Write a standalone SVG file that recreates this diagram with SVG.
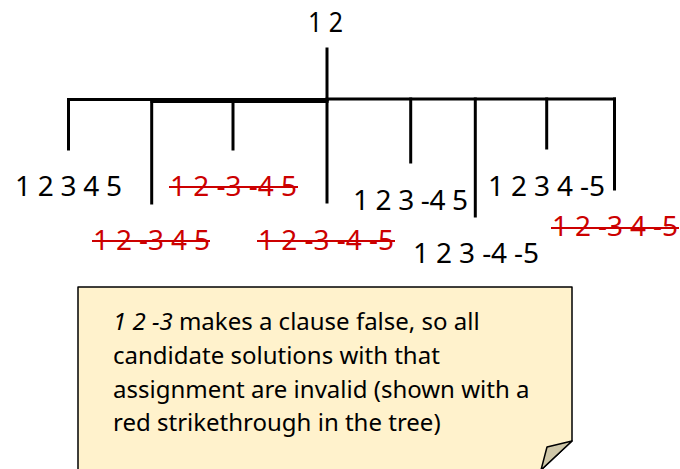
<svg xmlns="http://www.w3.org/2000/svg" width="680" height="469" viewBox="0 0 680 469">
<style>
  .t { font-family: "Noto Sans", "Liberation Sans", sans-serif; font-size: 28px; fill: #000; }
  .r { fill: #cc0000; }
  .strike { stroke: #cc0000; stroke-width: 2; }
  .edge { stroke: #000; stroke-width: 3; fill: none; stroke-linecap: square; }
  .note { fill: #fff2cc; stroke: #000; stroke-width: 1.5; stroke-linejoin: round; }
  .fold { fill: #cfc7a8; stroke: #000; stroke-width: 1.5; stroke-linejoin: round; }
  .nt { font-family: "Noto Sans", "Liberation Sans", sans-serif; font-size: 24px; fill: #000; }
</style>
<rect width="680" height="469" fill="#fff"/>
<g id="connectors">
  <line class="edge" x1="327" y1="49" x2="327" y2="202"/>
  <line class="edge" x1="69" y1="99.5" x2="327" y2="99.5"/>
  <line class="edge" x1="152" y1="101.5" x2="327" y2="101.5"/>
  <line class="edge" x1="233" y1="100" x2="327" y2="100"/>
  <line class="edge" x1="327" y1="99" x2="614.5" y2="99"/>
  <line class="edge" x1="68.5" y1="99.5" x2="68.5" y2="149"/>
  <line class="edge" x1="151.7" y1="101.5" x2="151.7" y2="203"/>
  <line class="edge" x1="233" y1="100" x2="233" y2="149"/>
  <line class="edge" x1="410.7" y1="99" x2="410.7" y2="162"/>
  <line class="edge" x1="475.3" y1="99" x2="475.3" y2="216"/>
  <line class="edge" x1="546.7" y1="99" x2="546.7" y2="148"/>
  <line class="edge" x1="614.5" y1="99" x2="614.5" y2="189"/>
</g>
<g id="root"><text class="t" x="308" y="32" textLength="35" lengthAdjust="spacingAndGlyphs">1 2</text></g>
<g id="leaf1"><text class="t" x="15" y="196" textLength="107" lengthAdjust="spacing">1 2 3 4 5</text></g>
<g id="leaf2">
  <text class="t r" x="93" y="250" textLength="117" lengthAdjust="spacing">1 2 -3 4 5</text>
  <line class="strike" x1="92" y1="241" x2="210" y2="241"/>
</g>
<g id="leaf3">
  <text class="t r" x="170" y="196" textLength="127" lengthAdjust="spacing">1 2 -3 -4 5</text>
  <line class="strike" x1="169" y1="187" x2="298" y2="187"/>
</g>
<g id="leaf4">
  <text class="t r" x="258" y="250" textLength="136" lengthAdjust="spacing">1 2 -3 -4 -5</text>
  <line class="strike" x1="257" y1="241" x2="395" y2="241"/>
</g>
<g id="leaf5"><text class="t" x="353" y="210" textLength="115" lengthAdjust="spacing">1 2 3 -4 5</text></g>
<g id="leaf6"><text class="t" x="413" y="263" textLength="126" lengthAdjust="spacing">1 2 3 -4 -5</text></g>
<g id="leaf7"><text class="t" x="488" y="196" textLength="117" lengthAdjust="spacing">1 2 3 4 -5</text></g>
<g id="leaf8">
  <text class="t r" x="552" y="236" textLength="126" lengthAdjust="spacing">1 2 -3 4 -5</text>
  <line class="strike" x1="551" y1="228" x2="679" y2="228"/>
</g>
<g id="note">
  <path class="note" d="M78 287 H572 V441 L541 470 H78 Z"/>
  <path class="fold" d="M572 441 L547 447 L541 470 Z"/>
  <text class="nt" x="113" y="330"><tspan font-style="italic">1 2 -3</tspan> makes a clause false, so all</text>
  <text class="nt" x="113" y="364">candidate solutions with that</text>
  <text class="nt" x="113" y="398">assignment are invalid (shown with a</text>
  <text class="nt" x="113" y="431">red strikethrough in the tree)</text>
</g>
</svg>
